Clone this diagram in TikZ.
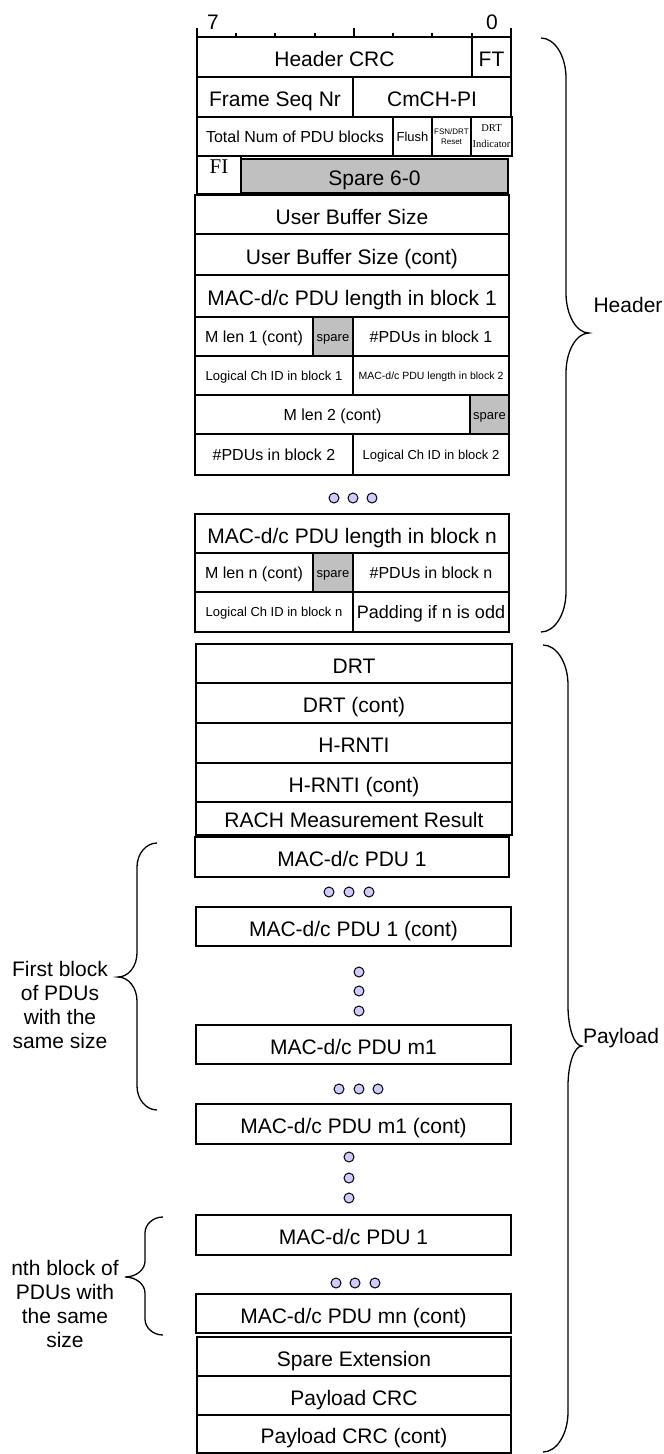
\documentclass[tikz,border=0pt]{standalone}
\usepackage{fontspec}
\setmainfont{Liberation Sans}
\newfontfamily\tmsfont{Liberation Serif}
\tikzset{
 fld/.style={draw=black, line width=1.2pt, inner sep=0pt, outer sep=0pt, fill=white},
 greyfill/.style={fill={rgb,255:red,192;green,192;blue,192}},
 f21/.style={font=\fontsize{21}{24}\selectfont, text height=19pt, text depth=0pt},
 f18/.style={font=\fontsize{18}{21}\selectfont, text height=13pt, text depth=0pt},
 f16/.style={font=\fontsize{16}{19}\selectfont, text height=11.5pt, text depth=0pt},
 f13/.style={font=\fontsize{13}{15}\selectfont, text height=9.3pt, text depth=0pt},
 f10/.style={font=\fontsize{10.5}{12}\selectfont, text height=7.5pt, text depth=0pt},
 dotc/.style={circle, draw=black, line width=1pt, fill={rgb,255:red,204;green,204;blue,255}, minimum size=10pt, inner sep=0pt},
 bracestyle/.style={draw=black, line width=1.3pt},
 sidelbl/.style={font=\fontsize{21}{24.3}\selectfont, align=center, inner sep=0pt},
 rulerline/.style={draw=black, line width=1.3pt},
}
% \fld[opts]{name}{x1}{y1}{x2}{y2}{text}
\newcommand{\fld}[7][]{\node[fld,#1,minimum width={(#5-#3)*1pt},minimum height={(#6-#4)*1pt}] (#2) at ({(#3+#5)/2},{(#4+#6)/2}) {#7};}
% brace: x0 x1 x2 y0 ym y1 c
\newcommand{\bracepath}[7]{%
 \draw[bracestyle] (#1,#4) .. controls ({#1+0.55*(#2-#1)},#4) and (#2,{#4+0.45*#7}) .. (#2,{#4+#7}) -- (#2,{#5-#7}) .. controls (#2,{#5-0.45*#7}) and ({#3-0.55*(#3-#2)},#5) .. (#3,#5) .. controls ({#3-0.55*(#3-#2)},#5) and (#2,{#5+0.45*#7}) .. (#2,{#5+#7}) -- (#2,{#6-#7}) .. controls (#2,{#6-0.45*#7}) and ({#1+0.55*(#2-#1)},#6) .. (#1,#6);}
\begin{document}
\begin{tikzpicture}[x=1pt,y=-1pt]
\useasboundingbox (0,0) rectangle (664,1454);

% ruler
\node[f21, inner sep=0pt] (b7) at (213,20) {7};
\node[f21, inner sep=0pt] (b0) at (492,20) {0};

% header
\fld[f21]{hcrc}{197}{37}{472}{77}{Header CRC}
\fld[f21]{ft}{472}{37}{511}{77}{FT}
\fld[f21]{fsn}{197}{77}{353}{117}{Frame Seq Nr}
\fld[f21]{cmch}{353}{77}{511}{117}{CmCH-PI}
\fld[f16]{tnum}{197}{117}{393}{156}{Total Num of PDU blocks}
\fld[f13]{flush}{393}{117}{432}{156}{Flush}
\fld[font=\fontsize{8}{10}\selectfont, align=center]{fsnr}{432}{117}{471}{156}{FSN/DRT\\Reset}
\fld[font=\tmsfont\fontsize{10.5}{16}\selectfont, align=center]{drti}{471}{117}{512}{156}{DRT\\Indicator}
\fld[font=\tmsfont\fontsize{21}{24}\selectfont, text height=0pt, text depth=4pt]{fi}{197}{156}{241}{194}{FI}
\fld[f21,greyfill]{spare60}{241}{159}{508}{193}{Spare 6-0}
\fld[f21]{ubs}{195}{195}{509}{234}{User Buffer Size}
\fld[f21]{ubsc}{195}{234}{509}{275}{User Buffer Size (cont)}
\fld[f21]{len1}{195}{275}{509}{317}{MAC-d/c PDU length in block 1}
\fld[f16]{mlen1}{195}{317}{313}{356}{M len 1 (cont)}
\fld[f13,greyfill]{sp1}{313}{317}{353}{356}{spare}
\fld[f16]{npdu1}{353}{317}{509}{356}{\#PDUs in block 1}
\fld[f13]{lch1}{195}{356}{353}{395}{Logical Ch ID in block 1}
\fld[f10]{len2}{353}{356}{509}{395}{MAC-d/c PDU length in block 2}
\fld[f16]{mlen2}{195}{395}{470}{434}{M len 2 (cont)}
\fld[f13,greyfill]{sp2}{470}{395}{509}{434}{spare}
\fld[f16]{npdu2}{195}{434}{353}{475}{\#PDUs in block 2}
\fld[f13]{lch2}{353}{434}{509}{475}{Logical Ch ID in block 2}
\node[dotc] (hd1) at (334,498) {};
\node[dotc] (hd2) at (353,498) {};
\node[dotc] (hd3) at (372,498) {};
\fld[f21]{lenn}{195}{514}{509}{553}{MAC-d/c PDU length in block n}
\fld[f16]{mlenn}{195}{553}{313}{592}{M len n (cont)}
\fld[f13,greyfill]{spn}{313}{553}{353}{592}{spare}
\fld[f16]{npdun}{353}{553}{509}{592}{\#PDUs in block n}
\fld[f13]{lchn}{195}{592}{353}{632}{Logical Ch ID in block n}
\fld[f18]{pad}{353}{592}{509}{632}{Padding if n is odd}

% ruler drawn over the top border
\draw[rulerline] (197,37) -- (511,37);
\draw[rulerline] (197,28) -- (197,37);
\draw[rulerline] (511,28) -- (511,37);
\draw[rulerline] (354,28) -- (354,37);
\foreach \t in {236,275,315,393,432,472} \draw[rulerline] (\t,33) -- (\t,37);

% payload
\fld[f21]{drt}{196}{644}{512}{683}{DRT}
\fld[f21]{drtc}{196}{683}{512}{723}{DRT (cont)}
\fld[f21]{hrnti}{196}{723}{512}{763}{H-RNTI}
\fld[f21]{hrntic}{196}{763}{512}{802}{H-RNTI (cont)}
\fld[f21, text height=17pt]{rach}{196}{802}{512}{835}{RACH Measurement Result}
\fld[f21]{pdu1}{195}{837}{509}{877}{MAC-d/c PDU 1}
\node[dotc] (pd1) at (329,892) {};
\node[dotc] (pd2) at (349,892) {};
\node[dotc] (pd3) at (369,892) {};
\fld[f21]{pdu1c}{196}{907}{511}{946}{MAC-d/c PDU 1 (cont)}
\node[dotc] (vd1) at (359,972) {};
\node[dotc] (vd2) at (359,991) {};
\node[dotc] (vd3) at (359,1011) {};
\fld[f21]{pdum1}{196}{1025}{511}{1064}{MAC-d/c PDU m1}
\node[dotc] (qd1) at (339,1089) {};
\node[dotc] (qd2) at (359,1089) {};
\node[dotc] (qd3) at (378,1089) {};
\fld[f21]{pdum1c}{196}{1104}{511}{1144}{MAC-d/c PDU m1 (cont)}
\node[dotc] (wd1) at (349,1157) {};
\node[dotc] (wd2) at (349,1178) {};
\node[dotc] (wd3) at (349,1198) {};
\fld[f21]{pdun1}{196}{1215}{511}{1255}{MAC-d/c PDU 1}
\node[dotc] (rd1) at (336,1283) {};
\node[dotc] (rd2) at (355,1283) {};
\node[dotc] (rd3) at (375,1283) {};
\fld[f21]{pdumnc}{196}{1294}{511}{1333}{MAC-d/c PDU mn (cont)}
\fld[f21]{spext}{197}{1337}{511}{1376}{Spare Extension}
\fld[f21]{pcrc}{197}{1376}{511}{1415}{Payload CRC}
\fld[f21]{pcrcc}{197}{1415}{511}{1453}{Payload CRC (cont)}

% braces
\bracepath{541}{566}{589}{38}{333}{632}{40}
\bracepath{543}{568}{582}{645}{1046}{1452}{40}
\bracepath{157}{137}{118}{843}{977}{1110}{24}
\bracepath{163}{145}{125}{1217}{1277}{1335}{16}

% side labels
\node[sidelbl] (hdrlbl) at (628,305) {Header};
\node[sidelbl] (pldlbl) at (621,1038) {Payload};
\node[sidelbl] (firstlbl) at (60,1005) {First block\\of PDUs\\with the\\same size};
\node[sidelbl] (nthlbl) at (65,1304) {nth block of\\PDUs with\\the same\\size};
\end{tikzpicture}
\end{document}
